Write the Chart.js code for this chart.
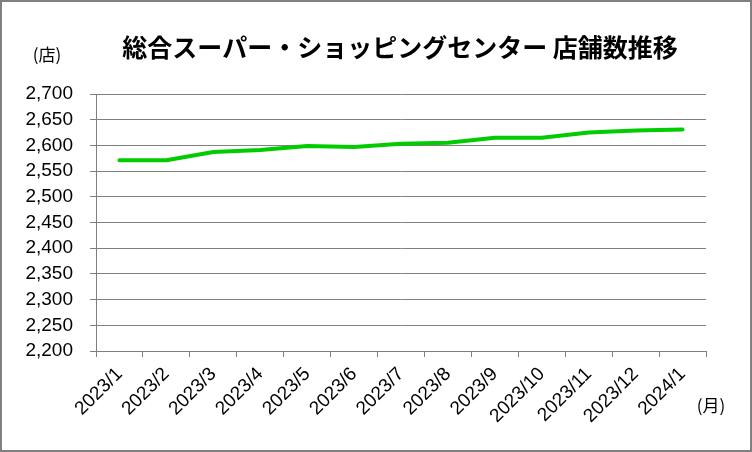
<!DOCTYPE html>
<html>
<head>
<meta charset="utf-8">
<script src="https://cdn.jsdelivr.net/npm/chart.js@4"></script>
<style>
  html, body { margin: 0; padding: 0; background: #fff; }
  #wrap { width: 752px; height: 452px; }
</style>
</head>
<body>
<div id="wrap"><canvas id="storeChart" width="752" height="452"></canvas></div>
<script>
const months = ['2023/1', '2023/2', '2023/3', '2023/4', '2023/5', '2023/6', '2023/7',
  '2023/8', '2023/9', '2023/10', '2023/11', '2023/12', '2024/1'];
const storeCounts = [2571, 2571, 2587, 2591, 2599, 2597, 2603, 2605, 2615, 2615, 2625, 2629, 2631];
const yMin = 2200;
const yMax = 2700;
const yStep = 50;
const chartTitle = '総合スーパー・ショッピングセンター 店舗数推移';
const yUnit = '(店)';
const xUnit = '(月)';

const frame = {
  id: 'frame',
  beforeDraw(chart) {
    const c = chart.ctx;
    c.save();
    c.fillStyle = '#fff';
    c.fillRect(0, 0, chart.width, chart.height);
    c.restore();
  },
  afterDraw(chart) {
    const c = chart.ctx;
    c.save();
    c.strokeStyle = '#808080';
    c.lineWidth = 2;
    c.strokeRect(1, 1, chart.width - 2, chart.height - 2);
    c.fillStyle = '#000';
    c.textAlign = 'center';
    c.textBaseline = 'middle';
    c.font = 'bold 25px "Noto Sans CJK JP"';
    c.fillText(chartTitle, 400, 47);
    c.font = '17px "Noto Sans CJK JP"';
    c.fillText(yUnit, 47, 55);
    c.fillText(xUnit, 711, 406);
    c.restore();
  }
};

new Chart(document.getElementById('storeChart').getContext('2d'), {
  type: 'line',
  data: {
    labels: months,
    datasets: [{
      data: storeCounts,
      borderColor: '#00cc00',
      borderWidth: 4,
      borderCapStyle: 'round',
      borderJoinStyle: 'round',
      pointRadius: 0,
      tension: 0,
      fill: false
    }]
  },
  options: {
    responsive: false,
    animation: false,
    layout: { padding: { left: 0, top: 94, right: 46, bottom: 0 } },
    plugins: {
      legend: { display: false },
      tooltip: { enabled: false }
    },
    scales: {
      x: {
        offset: true,
        afterFit(scale) { scale.height = 101; },
        border: { color: '#808080', width: 1 },
        grid: {
          offset: true,
          drawOnChartArea: false,
          drawTicks: true,
          tickLength: 6,
          color: '#808080'
        },
        ticks: {
          minRotation: 45,
          maxRotation: 45,
          autoSkip: false,
          padding: 6,
          color: '#000',
          font: { family: 'Liberation Sans', size: 19 }
        }
      },
      y: {
        min: yMin,
        max: yMax,
        afterFit(scale) { scale.width = 96; },
        border: { color: '#808080', width: 1 },
        grid: {
          color: '#808080',
          lineWidth: 1,
          tickLength: 6
        },
        ticks: {
          stepSize: yStep,
          autoSkip: false,
          padding: 17,
          color: '#000',
          font: { family: 'Liberation Sans', size: 19 },
          callback: v => v.toLocaleString('en-US')
        }
      }
    }
  },
  plugins: [frame]
});
</script>
</body>
</html>
